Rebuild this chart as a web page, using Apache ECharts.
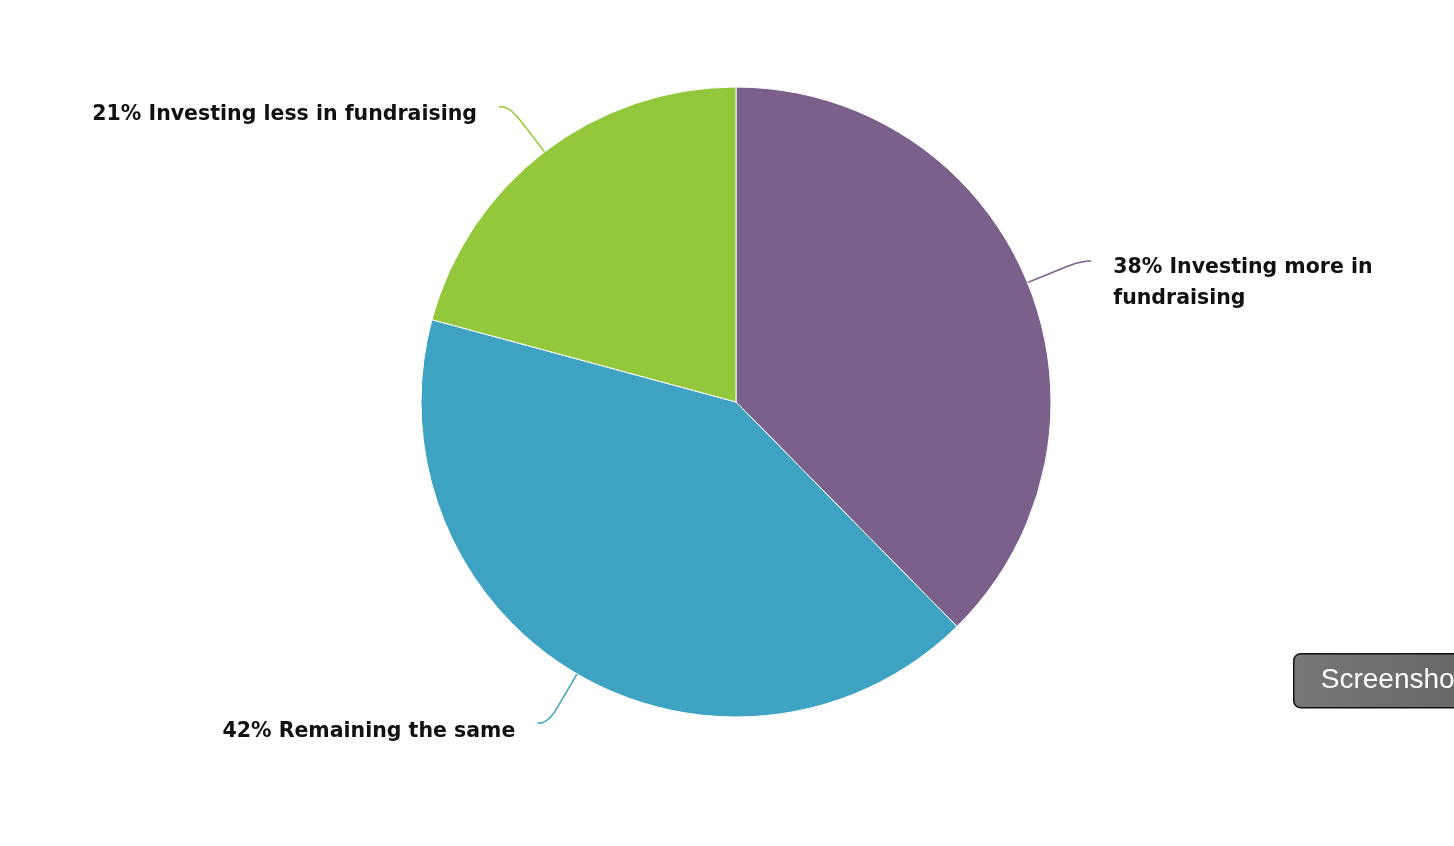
<!DOCTYPE html>
<html>
<head>
<meta charset="utf-8">
<title>Fundraising investment</title>
<script src="https://cdn.jsdelivr.net/npm/echarts@6/dist/echarts.min.js"></script>
<style>
  html, body { margin: 0; padding: 0; background: #fff; }
  #chart { width: 1454px; height: 846px; }
</style>
</head>
<body>
<div id="chart"></div>
<script>
// 数据
var categories = ['Investing more in fundraising', 'Remaining the same', 'Investing less in fundraising'];
var percents = [38, 42, 21];
var colors = ['#7b608b', '#3ea2c2', '#94c83c'];

var myChart = echarts.init(document.getElementById('chart'));

var total = 0;
percents.forEach(function (v) { total += v; });

var dataL = [];
categories.forEach(function (name, i) {
    dataL.push({name: name, value: percents[i], itemStyle: {color: colors[i]}, labelLine: {lineStyle: {color: colors[i]}}});
});

// 右侧标签按单词折行（右边空间不够）
function wrapWords(str, maxChars) {
    var words = str.split(' ');
    var lines = [];
    var cur = '';
    words.forEach(function (w) {
        if (cur && (cur + ' ' + w).length > maxChars) {
            lines.push(cur);
            cur = w;
        } else {
            cur = cur ? cur + ' ' + w : w;
        }
    });
    if (cur) lines.push(cur);
    return lines;
}

function labelText(p) {
    var before = 0;
    for (var i = 0; i < p.dataIndex; i++) before += percents[i];
    var midAngle = (before + p.value / 2) / total * 360;
    var full = p.value + '% ' + p.name;
    var lines = midAngle < 180 ? wrapWords(full, 22) : [full];
    // 顶部空行让首行略低于引线端点
    var spacer = lines.length > 1 ? '{big|}' : '{small|}';
    return spacer + '\n' + lines.map(function (l) { return '{t|' + l + '}'; }).join('\n');
}

var option = {
    animation: false,
    series: [
        {
            type: 'pie',
            center: [736, 402],
            radius: 315,
            startAngle: 90,
            clockwise: true,
            avoidLabelOverlap: false,
            itemStyle: {borderColor: '#fff', borderWidth: 1},
            label: {
                show: true,
                position: 'outside',
                formatter: labelText,
                distanceToLabelLine: 22,
                rich: {
                    t: {
                        color: '#111',
                        fontFamily: 'DejaVu Sans, Liberation Sans, sans-serif',
                        fontWeight: 'bold',
                        fontSize: 20.5,
                        lineHeight: 31
                    },
                    small: {fontSize: 1, lineHeight: 16},
                    big: {fontSize: 1, lineHeight: 45}
                }
            },
            labelLine: {
                show: true,
                length: 57,
                length2: 11,
                smooth: 0.6,
                lineStyle: {width: 1.5}
            },
            emphasis: {disabled: true},
            data: dataL
        }
    ],
    graphic: [
        {
            type: 'group',
            left: 1293,
            top: 653,
            children: [
                {
                    type: 'rect',
                    shape: {x: 0, y: 0, width: 200, height: 54, r: 7},
                    style: {
                        fill: new echarts.graphic.LinearGradient(0, 0, 1, 0, [
                            {offset: 0, color: '#787878'},
                            {offset: 1, color: '#636363'}
                        ]),
                        stroke: '#111',
                        lineWidth: 1.5
                    }
                },
                {
                    type: 'text',
                    x: 27,
                    y: 27,
                    style: {
                        text: 'Screenshot',
                        fill: '#fff',
                        fontSize: 28,
                        fontFamily: 'Liberation Sans, Arial, sans-serif',
                        verticalAlign: 'middle'
                    }
                }
            ]
        }
    ]
};
myChart.setOption(option);
</script>
</body>
</html>
